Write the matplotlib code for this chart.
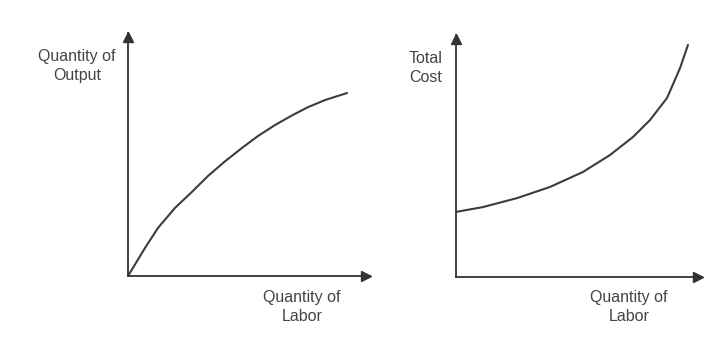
import matplotlib
matplotlib.use('Agg')
import matplotlib.pyplot as plt

plt.rcParams['font.family'] = ['Liberation Sans', 'DejaVu Sans']

# Production function (left panel)
labor_prod = [0.0, 0.70, 1.24, 1.94, 2.64, 3.31, 4.01, 4.71, 5.37, 6.07, 6.78, 7.44, 8.14, 9.05]
output_prod = [0.0, 1.15, 1.98, 2.80, 3.46, 4.12, 4.72, 5.27, 5.76, 6.21, 6.61, 6.95, 7.24, 7.53]

# Total cost curve (right panel)
labor_cost = [0.0, 1.10, 2.48, 3.82, 5.16, 6.26, 7.20, 7.89, 8.58, 9.11, 9.43]
total_cost = [2.69, 2.89, 3.26, 3.72, 4.34, 5.04, 5.79, 6.49, 7.40, 8.64, 9.59]

ylabels = ['Quantity of\nOutput', 'Total\nCost']
xlabel = 'Quantity of\nLabor'

W, H = 720, 337
fig = plt.figure(figsize=(W / 100, H / 100), dpi=100)

# axes boxes in pixels: origin x, origin y (from top), x length, y length
boxes = [(128, 276, 242, 243), (456, 277, 246, 242)]
ylab_pos = [(-0.211, 0.865), (-0.122, 0.865)]
xlab_pos = [(0.719, -0.128), (0.703, -0.124)]
line_col = '#333333'
text_col = '#444444'

panels = [(labor_prod, output_prod), (labor_cost, total_cost)]

for i, ((ox, oy, lx, ly), (xs, ys)) in enumerate(zip(boxes, panels)):
    ax = fig.add_axes([ox / W, (H - oy) / H, lx / W, ly / H])
    ax.set_xlim(0, 10)
    ax.set_ylim(0, 10)
    for s in ['top', 'right']:
        ax.spines[s].set_visible(False)
    for s in ['left', 'bottom']:
        ax.spines[s].set_color(line_col)
        ax.spines[s].set_linewidth(1.3)
    ax.set_xticks([])
    ax.set_yticks([])
    ax.patch.set_alpha(0)

    # arrow heads
    ax.plot(0.985, 0, '>', color=line_col, ms=7, transform=ax.transAxes, clip_on=False)
    ax.plot(0, 0.985, '^', color=line_col, ms=7, transform=ax.transAxes, clip_on=False)

    ax.plot(xs, ys, color='#3c3c3c', lw=1.5, solid_capstyle='round', solid_joinstyle='round')

    ax.text(ylab_pos[i][0], ylab_pos[i][1], ylabels[i], transform=ax.transAxes,
            ha='center', va='center', fontsize=11.5, color=text_col, linespacing=1.35)
    ax.text(xlab_pos[i][0], xlab_pos[i][1], xlabel, transform=ax.transAxes,
            ha='center', va='center', fontsize=11.5, color=text_col, linespacing=1.35)

fig.savefig('out.png', dpi=100)
